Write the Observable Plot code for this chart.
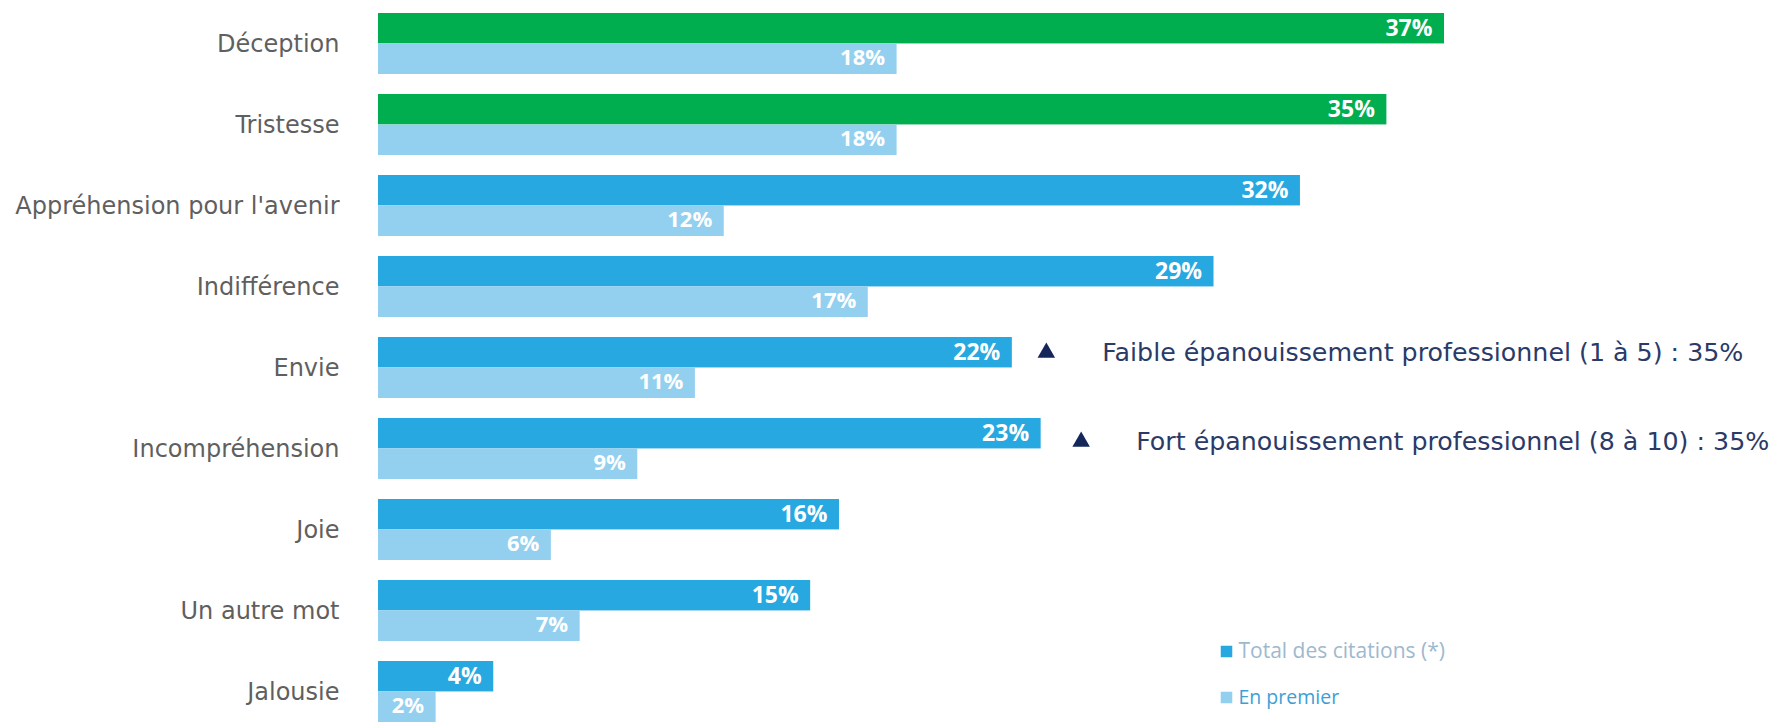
<!DOCTYPE html>
<html>
<head>
<meta charset="utf-8">
<script src="https://cdn.jsdelivr.net/npm/d3@7"></script>
<script src="https://cdn.jsdelivr.net/npm/@observablehq/plot@0.6"></script>
<style>
  html, body { margin: 0; padding: 0; background: #fff; overflow: hidden; }
  #chart svg { display: block; }
</style>
</head>
<body>
<div id="chart"></div>
<script>
// ---- data ----
const categories = ["Déception", "Tristesse", "Appréhension pour l'avenir", "Indifférence", "Envie", "Incompréhension", "Joie", "Un autre mot", "Jalousie"];
const totalCitations = [37, 35, 32, 29, 22, 23, 16, 15, 4];
const enPremier = [18, 18, 12, 17, 11, 9, 6, 7, 2];
const highlighted = ["Déception", "Tristesse"];
const annotationCats = ["Envie", "Incompréhension"];
const annotationTexts = ["Faible épanouissement professionnel (1 à 5) : 35%", "Fort épanouissement professionnel (8 à 10) : 35%"];
const legendLabels = ["Total des citations (*)", "En premier"];

// ---- layout / style ----
const W = 1785, H = 723;
const rows = categories.map((c, i) => ({cat: c, total: totalCitations[i], premier: enPremier[i]}));
const yRange = [0, 734];
const nCat = categories.length;
const step = (yRange[1] - yRange[0]) / nCat;
const bw = step * 0.75;
const GREEN = "#00AD4F", BLUE = "#27A8E0", LIGHT = "#93D0EF";
const ann = annotationCats.map((c, i) => ({cat: c, text: annotationTexts[i], total: totalCitations[categories.indexOf(c)]}));

const chart = Plot.plot({
  width: W,
  height: H,
  marginLeft: 378,
  marginRight: 0,
  marginTop: 0,
  marginBottom: 0,
  style: {fontFamily: "DejaVu Sans", background: "white", overflow: "visible"},
  x: {domain: [0, 37], range: [378, 1444], axis: null},
  y: {domain: categories, range: yRange, paddingInner: 0.25, paddingOuter: 0.125, axis: null},
  marks: [
    Plot.barX(rows, {y: "cat", x: "total", insetBottom: bw / 2, fill: d => highlighted.includes(d.cat) ? GREEN : BLUE}),
    Plot.barX(rows, {y: "cat", x: "premier", insetTop: bw / 2, fill: LIGHT}),
    Plot.axisY({tickSize: 0, tickPadding: 39, fontSize: 24, fill: "#5f5f5f", label: null}),
    Plot.text(rows, {y: "cat", x: "total", text: d => d.total + "%", textAnchor: "end", dx: -12, dy: -bw / 4, fill: "white", fontWeight: "bold", fontSize: 23, fontFamily: "Open Sans"}),
    Plot.text(rows, {y: "cat", x: "premier", text: d => d.premier + "%", textAnchor: "end", dx: -12, dy: bw / 4 - 1, fill: "white", fontWeight: "bold", fontSize: 22, fontFamily: "Open Sans"}),
    // annotations
    Plot.dot([ann[0]], {y: "cat", x: "total", dx: 34, dy: -bw / 4, symbol: "triangle", r: 6.5, fill: "#15275A"}),
    Plot.text([ann[0]], {y: "cat", x: "total", text: "text", dx: 90, dy: -bw / 4, textAnchor: "start", fontSize: 25.3, fill: "#2B3A67"}),
    Plot.dot([ann[1]], {y: "cat", x: "total", dx: 40, dy: -bw / 4 + 8, symbol: "triangle", r: 6.5, fill: "#15275A"}),
    Plot.text([ann[1]], {y: "cat", x: "total", text: "text", dx: 95, dy: -bw / 4 + 8, textAnchor: "start", fontSize: 25.3, fill: "#2B3A67"}),
    // legend
    Plot.dot([legendLabels[0]], {frameAnchor: "top-left", dx: 848, dy: 651, symbol: "square", r: 6.5, fill: BLUE}),
    Plot.text([legendLabels[0]], {text: d => d, frameAnchor: "top-left", dx: 860, dy: 651, textAnchor: "start", lineAnchor: "middle", fontSize: 21, fontFamily: "Open Sans", fill: "#9DB9CE"}),
    Plot.dot([legendLabels[1]], {frameAnchor: "top-left", dx: 848, dy: 697, symbol: "square", r: 6.5, fill: LIGHT}),
    Plot.text([legendLabels[1]], {text: d => d, frameAnchor: "top-left", dx: 860, dy: 697, textAnchor: "start", lineAnchor: "middle", fontSize: 19.5, fontFamily: "Open Sans", fill: "#3C9FD6"})
  ]
});
document.getElementById("chart").appendChild(chart);
</script>
</body>
</html>
